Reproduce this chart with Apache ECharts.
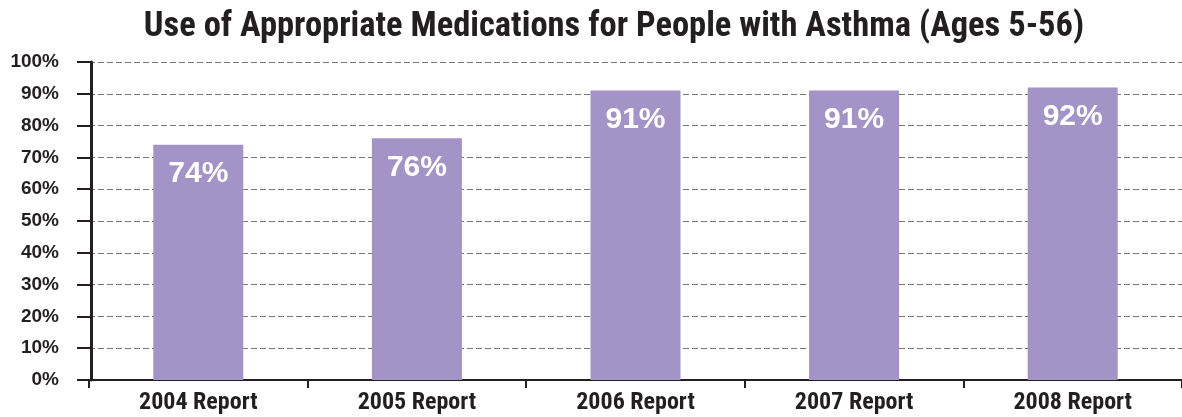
<!DOCTYPE html>
<html>
<head>
<meta charset="utf-8">
<script src="https://cdn.jsdelivr.net/npm/echarts@6/dist/echarts.min.js"></script>
<style>
  html, body { margin: 0; padding: 0; background: #ffffff; }
  #chart { width: 1182px; height: 417px; }
</style>
</head>
<body>
<div id="chart"></div>
<script>
// Asthma medication usage by report year
const chartTitle = 'Use of Appropriate Medications for People with Asthma (Ages 5-56)';
const categories = ['2004 Report', '2005 Report', '2006 Report', '2007 Report', '2008 Report'];
const values = [74, 76, 91, 91, 92];
const yTicks = [0, 10, 20, 30, 40, 50, 60, 70, 80, 90, 100];

const ink = '#231f20';
const barColor = '#a393c6';
const narrow = '"Liberation Sans Narrow", "Roboto Condensed", "Liberation Sans", Arial, sans-serif';
const plain = '"Liberation Sans", Arial, sans-serif';

const chart = echarts.init(document.getElementById('chart'), null, { renderer: 'canvas' });

chart.setOption({
  animation: false,
  backgroundColor: '#ffffff',
  title: {
    text: chartTitle,
    left: 609,
    textAlign: 'center',
    top: 5,
    textStyle: { fontFamily: narrow, fontWeight: 'bold', fontSize: 34.5, color: ink }
  },
  grid: { left: 89, right: 0, top: 62, bottom: 37, containLabel: false },
  xAxis: {
    type: 'category',
    data: categories,
    axisLine: { lineStyle: { color: ink, width: 2 } },
    axisTick: { show: true, length: 8, lineStyle: { color: ink, width: 2 } },
    axisLabel: { color: ink, fontFamily: narrow, fontWeight: 'bold', fontSize: 24, margin: 11 },
    splitLine: { show: false }
  },
  yAxis: {
    type: 'value',
    min: yTicks[0],
    max: yTicks[yTicks.length - 1],
    interval: yTicks[1] - yTicks[0],
    offset: -2,
    axisLine: { show: true, lineStyle: { color: ink, width: 3 } },
    axisTick: { show: true, length: 14, lineStyle: { color: ink, width: 2 } },
    axisLabel: {
      color: ink, fontFamily: plain, fontWeight: 'bold', fontSize: 19, margin: 32,
      formatter: v => v + '%'
    },
    splitLine: { show: true, lineStyle: { color: '#777777', width: 1, type: [6, 3] } }
  },
  series: [{
    type: 'bar',
    data: values,
    barWidth: 90,
    itemStyle: { color: barColor },
    label: {
      show: true,
      position: 'insideTop',
      distance: 14,
      color: '#ffffff',
      fontFamily: plain,
      fontWeight: 'bold',
      fontSize: 30,
      formatter: p => p.value + '%'
    }
  }]
});
</script>
</body>
</html>
